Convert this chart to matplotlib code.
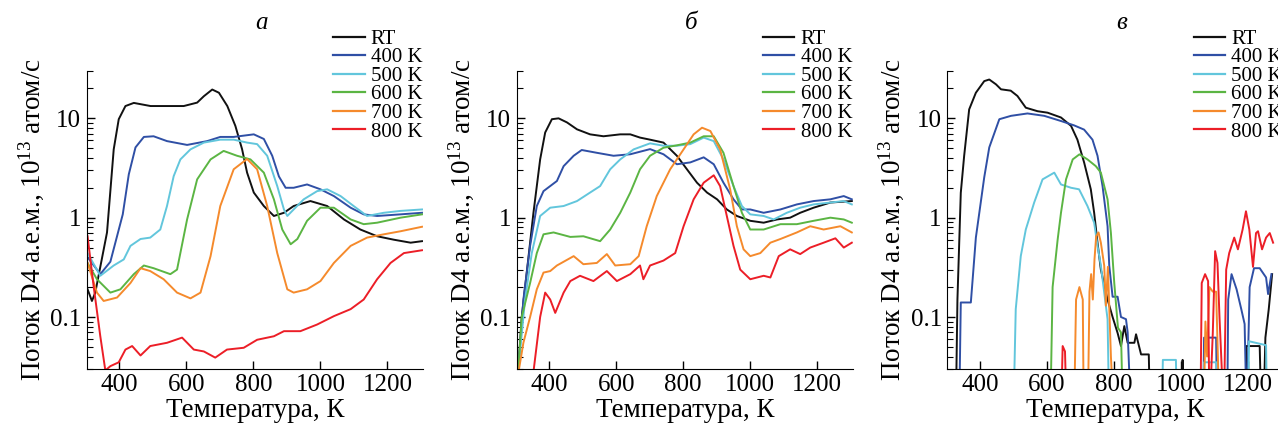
import matplotlib
matplotlib.use("Agg")
import matplotlib.pyplot as plt
from matplotlib.ticker import FixedLocator, FixedFormatter, LogLocator, NullFormatter

plt.rcParams['font.family'] = ['Liberation Serif', 'DejaVu Serif']
plt.rcParams['mathtext.fontset'] = 'custom'
plt.rcParams['mathtext.rm'] = 'Liberation Serif'
plt.rcParams['mathtext.it'] = 'Liberation Serif:italic'

labels = ["RT", "400 K", "500 K", "600 K", "700 K", "800 K"]
colors = ["#111111", "#2f4fa5", "#62c6dc", "#5bb543", "#f58a2c", "#ec1e27"]
panel_titles = ["а", "б", "в"]
xticks = [400, 600, 800, 1000, 1200]
yticks = [0.1, 1, 10]
ytick_labels = ["0.1", "1", "10"]
LOW = 0.01  # reading below the plotted range

# ---------------- panel а ----------------
a_rt_T = [305, 318, 328, 363, 383, 398, 418, 443, 493, 592, 632, 652, 677, 697, 722, 746, 766, 781, 801, 831, 861, 891, 920, 970, 1020, 1070, 1119, 1169, 1219, 1269, 1303]
a_rt_v = [0.19, 0.145, 0.176, 0.71, 4.87, 9.8, 13.3, 14.3, 13.3, 13.3, 14.4, 16.7, 19.5, 18.1, 13.3, 8.4, 4.9, 2.84, 1.79, 1.31, 1.04, 1.12, 1.31, 1.47, 1.31, 0.96, 0.76, 0.65, 0.60, 0.56, 0.58]
a_400_T = [305, 343, 373, 410, 428, 448, 473, 502, 542, 602, 662, 701, 741, 801, 831, 856, 876, 896, 920, 960, 1000, 1040, 1090, 1129, 1169, 1239, 1303]
a_400_v = [0.40, 0.27, 0.36, 1.08, 2.73, 5.1, 6.5, 6.6, 5.9, 5.4, 5.9, 6.5, 6.5, 6.9, 6.2, 4.2, 2.6, 2.0, 2.0, 2.16, 1.93, 1.65, 1.26, 1.08, 1.04, 1.08, 1.12]
a_500_T = [305, 343, 383, 413, 433, 463, 492, 522, 542, 562, 582, 612, 652, 701, 741, 781, 811, 841, 871, 891, 901, 920, 950, 990, 1020, 1060, 1099, 1139, 1189, 1239, 1303]
a_500_v = [0.44, 0.26, 0.33, 0.38, 0.52, 0.61, 0.63, 0.76, 1.31, 2.62, 3.86, 4.87, 5.7, 6.1, 6.1, 5.7, 5.5, 4.2, 2.08, 1.21, 1.04, 1.21, 1.53, 1.85, 1.93, 1.65, 1.31, 1.04, 1.12, 1.17, 1.21]
a_600_T = [305, 333, 373, 403, 443, 473, 502, 552, 572, 602, 632, 672, 711, 751, 791, 831, 861, 886, 911, 931, 960, 1000, 1040, 1090, 1129, 1169, 1239, 1303]
a_600_v = [0.35, 0.24, 0.176, 0.19, 0.27, 0.33, 0.31, 0.27, 0.30, 0.96, 2.43, 3.86, 4.7, 4.2, 3.86, 2.84, 1.53, 0.76, 0.54, 0.61, 0.93, 1.26, 1.26, 0.96, 0.86, 0.89, 1.0, 1.08]
a_700_T = [305, 333, 353, 393, 433, 463, 492, 532, 572, 612, 642, 672, 701, 741, 781, 811, 841, 871, 901, 920, 960, 1000, 1040, 1090, 1139, 1189, 1239, 1303]
a_700_v = [0.35, 0.176, 0.145, 0.157, 0.22, 0.31, 0.29, 0.24, 0.176, 0.154, 0.176, 0.41, 1.31, 3.07, 3.9, 3.07, 1.31, 0.44, 0.19, 0.176, 0.19, 0.23, 0.35, 0.52, 0.63, 0.68, 0.73, 0.81]
a_800_T = [305, 323, 343, 358, 373, 398, 418, 438, 463, 492, 542, 587, 622, 652, 686, 721, 771, 811, 861, 891, 940, 990, 1040, 1090, 1129, 1169, 1209, 1249, 1303]
a_800_v = [0.65, 0.205, 0.064, 0.029, 0.032, 0.035, 0.047, 0.051, 0.041, 0.051, 0.055, 0.062, 0.047, 0.045, 0.039, 0.047, 0.049, 0.059, 0.064, 0.072, 0.072, 0.084, 0.102, 0.12, 0.15, 0.24, 0.35, 0.44, 0.47]

# ---------------- panel б ----------------
b_rt_T = [308, 318, 333, 353, 373, 388, 408, 428, 453, 483, 522, 562, 612, 642, 671, 701, 741, 781, 811, 841, 871, 901, 930, 960, 1000, 1040, 1080, 1119, 1149, 1189, 1239, 1303]
b_rt_v = [0.03, 0.10, 0.28, 1.12, 3.86, 7.2, 9.8, 10.0, 9.1, 7.75, 6.9, 6.6, 6.9, 6.9, 6.4, 6.1, 5.7, 4.2, 3.07, 2.25, 1.79, 1.53, 1.21, 1.04, 0.93, 0.89, 0.96, 1.0, 1.12, 1.26, 1.42, 1.47]
b_400_T = [308, 323, 343, 363, 383, 423, 443, 473, 497, 542, 592, 642, 701, 741, 781, 821, 861, 891, 920, 950, 975, 1000, 1040, 1090, 1139, 1189, 1239, 1279, 1303]
b_400_v = [0.03, 0.15, 0.52, 1.31, 1.85, 2.34, 3.3, 4.2, 4.8, 4.5, 4.2, 4.35, 4.9, 4.35, 3.45, 3.6, 4.05, 3.45, 2.25, 1.53, 1.21, 1.21, 1.12, 1.21, 1.36, 1.47, 1.53, 1.65, 1.53]
b_500_T = [308, 328, 348, 373, 403, 443, 483, 522, 552, 582, 612, 652, 701, 741, 781, 821, 861, 891, 920, 950, 975, 1000, 1040, 1070, 1109, 1149, 1189, 1239, 1279, 1303]
b_500_v = [0.03, 0.15, 0.44, 1.04, 1.26, 1.31, 1.47, 1.79, 2.08, 3.07, 3.86, 4.87, 5.6, 5.3, 5.3, 5.5, 6.4, 5.9, 3.86, 2.08, 1.31, 1.08, 1.04, 0.96, 1.12, 1.26, 1.36, 1.42, 1.47, 1.36]
b_600_T = [308, 318, 343, 363, 383, 413, 463, 502, 552, 582, 612, 642, 671, 701, 741, 781, 821, 861, 891, 920, 950, 975, 1000, 1040, 1090, 1139, 1189, 1239, 1279, 1303]
b_600_v = [0.03, 0.10, 0.22, 0.44, 0.68, 0.71, 0.64, 0.65, 0.58, 0.76, 1.12, 1.79, 3.07, 4.2, 5.06, 5.35, 5.7, 6.6, 6.6, 4.5, 2.08, 1.12, 0.76, 0.76, 0.86, 0.86, 0.93, 1.0, 0.96, 0.89]
b_700_T = [310, 323, 343, 363, 383, 403, 423, 473, 502, 542, 572, 597, 642, 667, 691, 721, 761, 801, 831, 856, 881, 910, 940, 960, 980, 1000, 1030, 1060, 1090, 1139, 1179, 1219, 1269, 1303]
b_700_v = [0.03, 0.055, 0.10, 0.19, 0.28, 0.29, 0.33, 0.41, 0.34, 0.35, 0.43, 0.33, 0.34, 0.41, 0.82, 1.65, 3.07, 4.87, 6.9, 8.05, 7.45, 4.87, 1.93, 0.82, 0.48, 0.41, 0.44, 0.56, 0.61, 0.71, 0.82, 0.76, 0.82, 0.71]
b_800_T = [353, 373, 388, 403, 418, 443, 463, 492, 532, 572, 602, 642, 671, 681, 701, 741, 776, 801, 831, 861, 891, 910, 930, 950, 970, 1000, 1040, 1060, 1085, 1119, 1149, 1179, 1219, 1254, 1279, 1303]
b_800_v = [0.028, 0.10, 0.176, 0.15, 0.11, 0.176, 0.23, 0.26, 0.23, 0.29, 0.23, 0.27, 0.33, 0.24, 0.33, 0.37, 0.44, 0.82, 1.53, 2.25, 2.67, 2.08, 1.04, 0.52, 0.30, 0.24, 0.26, 0.25, 0.41, 0.48, 0.43, 0.50, 0.56, 0.62, 0.50, 0.56]

# ---------------- panel в ----------------
c_rt_T = [328, 333, 343, 353, 368, 388, 413, 428, 448, 463, 492, 512, 537, 572, 602, 642, 672, 691, 711, 731, 741, 751, 761, 781, 796, 811, 821, 831, 841, 861, 866, 881, 904, 908, 1003, 1005, 1008, 1192, 1195, 1235, 1240, 1246, 1252, 1262, 1272]
c_rt_v = [LOW, 0.15, 1.78, 4.17, 12.3, 18.1, 23.7, 24.6, 22.0, 19.6, 19.0, 16.8, 12.8, 11.8, 11.4, 10.2, 8.4, 6.1, 3.6, 1.93, 1.12, 0.56, 0.30, 0.15, 0.10, 0.069, 0.051, 0.081, 0.055, 0.055, 0.067, 0.042, 0.042, LOW, LOW, 0.037, LOW, LOW, 0.051, 0.051, LOW, LOW, 0.062, 0.12, 0.27]
c_400_T = [338, 343, 373, 378, 388, 413, 428, 458, 493, 542, 592, 642, 681, 711, 736, 751, 766, 781, 786, 796, 811, 821, 836, 841, 851, 1066, 1069, 1105, 1108, 1138, 1141, 1151, 1166, 1180, 1190, 1196, 1205, 1218, 1235, 1254, 1260, 1270]
c_400_v = [LOW, 0.14, 0.14, 0.23, 0.63, 2.55, 5.1, 9.8, 10.6, 11.2, 10.6, 9.4, 8.5, 7.7, 6.1, 4.2, 2.08, 0.82, 0.33, 0.16, 0.16, 0.10, 0.095, 0.07, LOW, LOW, 0.062, 0.062, LOW, LOW, 0.15, 0.27, 0.19, 0.12, 0.085, LOW, 0.20, 0.31, 0.31, 0.25, 0.17, 0.27]
c_500_T = [500, 507, 522, 537, 562, 587, 622, 642, 672, 696, 721, 741, 751, 761, 771, 781, 786, 943, 946, 985, 988, 1066, 1069, 1106, 1109, 1200, 1203, 1254, 1257]
c_500_v = [LOW, 0.12, 0.41, 0.76, 1.42, 2.43, 2.84, 2.16, 2.0, 1.93, 1.31, 0.89, 0.52, 0.33, 0.176, 0.095, LOW, LOW, 0.037, 0.037, LOW, LOW, 0.035, 0.035, LOW, LOW, 0.057, 0.052, LOW]
c_600_T = [610, 617, 632, 642, 657, 677, 697, 721, 746, 761, 781, 791, 801, 812, 821, 827]
c_600_v = [LOW, 0.2, 0.6, 1.12, 2.43, 3.86, 4.34, 3.86, 3.3, 2.84, 1.53, 0.7, 0.22, 0.078, 0.07, LOW]
c_700_T = [681, 687, 697, 707, 710, 722, 727, 732, 737, 742, 747, 754, 761, 771, 776, 782, 791, 800, 1068, 1073, 1078, 1085, 1095, 1105, 1115]
c_700_v = [LOW, 0.15, 0.2, 0.15, LOW, LOW, 0.18, 0.27, 0.15, 0.38, 0.65, 0.71, 0.56, 0.33, 0.13, 0.32, 0.04, LOW, LOW, 0.09, 0.04, 0.2, 0.18, 0.18, LOW]
c_800_T = [642, 647, 654, 659, 1058, 1062, 1072, 1081, 1085, 1095, 1102, 1109, 1115, 1128, 1135, 1144, 1159, 1170, 1184, 1194, 1204, 1215, 1224, 1230, 1242, 1254, 1265, 1275]
c_800_v = [LOW, 0.051, 0.045, LOW, LOW, 0.22, 0.27, 0.23, LOW, 0.069, 0.46, 0.35, 0.10, LOW, 0.3, 0.44, 0.63, 0.48, 0.76, 1.16, 0.76, 0.32, 0.7, 0.73, 0.48, 0.63, 0.7, 0.56]

panels = [
    [(a_rt_T, a_rt_v), (a_400_T, a_400_v), (a_500_T, a_500_v), (a_600_T, a_600_v), (a_700_T, a_700_v), (a_800_T, a_800_v)],
    [(b_rt_T, b_rt_v), (b_400_T, b_400_v), (b_500_T, b_500_v), (b_600_T, b_600_v), (b_700_T, b_700_v), (b_800_T, b_800_v)],
    [(c_rt_T, c_rt_v), (c_400_T, c_400_v), (c_500_T, c_500_v), (c_600_T, c_600_v), (c_700_T, c_700_v), (c_800_T, c_800_v)],
]

fig = plt.figure(figsize=(12.78, 4.30), dpi=100)
lefts = [0.068, 0.4043, 0.7413]
W, B, H = 0.263, 0.142, 0.693

for i, series in enumerate(panels):
    ax = fig.add_axes([lefts[i], B, W, H])
    for (T, v), lab, col in zip(series, labels, colors):
        ax.plot(T, v, color=col, lw=1.4, label=lab)
    ax.set_yscale('log')
    ax.set_xlim(303, 1306)
    ax.set_ylim(0.03, 30)
    ax.spines['top'].set_visible(False)
    ax.spines['right'].set_visible(False)
    ax.xaxis.set_major_locator(FixedLocator(xticks))
    ax.yaxis.set_major_locator(FixedLocator(yticks))
    ax.yaxis.set_major_formatter(FixedFormatter(ytick_labels))
    ax.yaxis.set_minor_locator(LogLocator(base=10, subs=range(2, 10)))
    ax.yaxis.set_minor_formatter(NullFormatter())
    ax.tick_params(axis='both', which='major', direction='in', length=6, width=1, labelsize=18, pad=4)
    ax.tick_params(axis='y', which='minor', direction='in', length=4, width=0.8)
    ax.set_xlabel("Температура, К", fontsize=19.5, labelpad=1)
    ax.set_ylabel(r"Поток D4 а.е.м., 10$^{13}$ атом/с", fontsize=19.5, labelpad=3)
    ax.text(0.52, 1.16, panel_titles[i], transform=ax.transAxes, fontsize=18,
            style='italic', ha='center', va='center')
    leg = ax.legend(loc='upper left', bbox_to_anchor=(0.733, 1.14), frameon=False,
                    fontsize=15, handlelength=1.5, handletextpad=0.3,
                    labelspacing=-0.05, borderpad=0, borderaxespad=0)
    for line in leg.get_lines():
        line.set_linewidth(1.6)

fig.savefig("out.png", dpi=100)
